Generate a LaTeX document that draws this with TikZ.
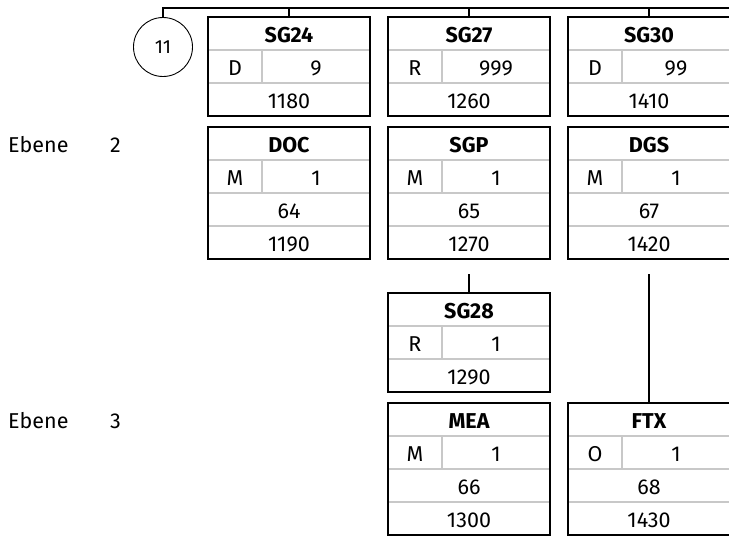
\documentclass[tikz,border=0pt]{standalone}
\usepackage{fontspec}
\setmainfont{Fira Sans}
\usetikzlibrary{calc}

\definecolor{cellgray}{RGB}{200,200,200}
\newcommand{\boxfont}{\fontsize{21.5}{25}\selectfont}

\tikzset{
  frame/.style={draw, line width=2pt, minimum width=162pt, inner sep=0pt, outer sep=0pt, anchor=north west},
  cell/.style={draw=cellgray, line width=1.4pt},
  conn/.style={line width=2.9pt},
  txt/.style={anchor=base, inner sep=0pt},
  head/.style={txt, font=\boxfont\bfseries},
}

% Gruppe: Kopf, Status | Wdh., Zaehler
\newcommand{\grpbox}[6]{%
  \begin{scope}[shift={(#2)}]
    \draw[cell] (0,33) -- (162,33) (0,66) -- (162,66) (54,33) -- (54,66);
    \node[frame, minimum height=99pt] (#1) at (0,0) {};
    \node[head] (#1-t) at (81,25) {#3};
    \node[txt] (#1-s) at (27,58) {#4};
    \node[txt] (#1-r) at (108,58) {#5};
    \node[txt] (#1-n) at (81,91) {#6};
  \end{scope}}

% Segment: Kopf, Status | Wdh., Nr., Zaehler
\newcommand{\segbox}[7]{%
  \begin{scope}[shift={(#2)}]
    \draw[cell] (0,33) -- (162,33) (0,66) -- (162,66) (0,99) -- (162,99) (54,33) -- (54,66);
    \node[frame, minimum height=132pt] (#1) at (0,0) {};
    \node[head] (#1-t) at (81,25) {#3};
    \node[txt] (#1-s) at (27,58) {#4};
    \node[txt] (#1-r) at (108,58) {#5};
    \node[txt] (#1-p) at (81,91) {#6};
    \node[txt] (#1-n) at (81,124) {#7};
  \end{scope}}

\begin{document}
\begin{tikzpicture}[x=1pt, y=-1pt, font=\boxfont]
  \useasboundingbox (0,0) rectangle (729,541);

  % Ebenen
  \node[txt, anchor=base west] (eb2) at (8,152) {Ebene};
  \node[txt, anchor=base west] (eb2n) at (110,152) {2};
  \node[txt, anchor=base west] (eb3) at (8,428) {Ebene};
  \node[txt, anchor=base west] (eb3n) at (110,428) {3};

  % Ebene 1
  \node[circle, draw, line width=0.9pt, minimum size=59pt, inner sep=0pt, font=\fontsize{19}{22}\selectfont] (c11) at (163,47) {11};
  \grpbox{sg24}{208,17}{SG24}{D}{9}{1180}
  \grpbox{sg27}{388,17}{SG27}{R}{999}{1260}
  \grpbox{sg30}{568,17}{SG30}{D}{99}{1410}

  % Ebene 2
  \segbox{doc}{208,127}{DOC}{M}{1}{64}{1190}
  \segbox{sgp}{388,127}{SGP}{M}{1}{65}{1270}
  \segbox{dgs}{568,127}{DGS}{M}{1}{67}{1420}

  % Ebene 3
  \grpbox{sg28}{388,293}{SG28}{R}{1}{1290}
  \segbox{mea}{388,403}{MEA}{M}{1}{66}{1300}
  \segbox{ftx}{568,403}{FTX}{O}{1}{68}{1430}

  % Verbindungen
  \coordinate (bus) at (745,8);
  \coordinate (sgpdown) at (469,274);
  \coordinate (dgsdown) at (649,274);
  \draw[conn] (c11.north) |- (bus);
  \foreach \g in {sg24, sg27, sg30}
    \draw[conn] (\g.north) -- (\g.north |- bus);
  \draw[conn] (sg28.north) -- (sgpdown);
  \draw[conn] (ftx.north) -- (dgsdown);
\end{tikzpicture}
\end{document}
